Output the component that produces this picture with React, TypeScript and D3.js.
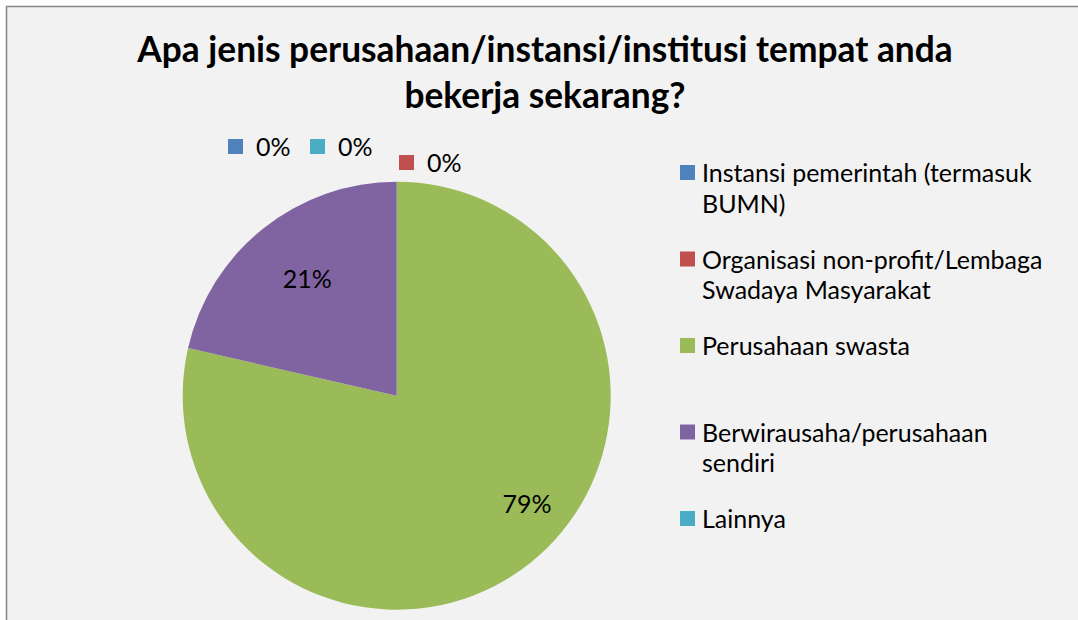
import * as d3 from 'd3';

const categories = [
  'Instansi pemerintah (termasuk BUMN)',
  'Organisasi non-profit/Lembaga Swadaya Masyarakat',
  'Perusahaan swasta',
  'Berwirausaha/perusahaan sendiri',
  'Lainnya',
];
// respondent counts per category
const counts = [0, 0, 11, 3, 0];
const colors = ['#4f81bd', '#c0504d', '#9bbb59', '#8064a2', '#4bacc6'];
// legend text broken into the lines shown in the chart
const legendLines = [
  ['Instansi pemerintah (termasuk', 'BUMN)'],
  ['Organisasi non-profit/Lembaga', 'Swadaya Masyarakat'],
  ['Perusahaan swasta'],
  ['Berwirausaha/perusahaan', 'sendiri'],
  ['Lainnya'],
];
const titleLines = ['Apa jenis perusahaan/instansi/institusi tempat anda', 'bekerja sekarang?'];

// label nudges relative to the pie centre (zero slices) or to the centroid
const labelNudge: [number, number][] = [
  [-139.7, -239.7],
  [31.3, -223.7],
  [37, 0],
  [4, 9],
  [-57.7, -239.7],
];

const W = 1078;
const H = 620;
const FONT = 'Lato, Calibri, sans-serif';
const FS = 25;

export default function App() {
  const cx = 396.7;
  const cy = 395.7;
  const r = 214;

  const pie = d3.pie<number>().sort(null).value(d => d);
  const arcs = pie(counts);
  const arc = d3.arc<d3.PieArcDatum<number>>().innerRadius(0).outerRadius(r);
  const labelArc = d3.arc<d3.PieArcDatum<number>>().innerRadius(r * 0.7).outerRadius(r * 0.7);
  const total = d3.sum(counts);
  const pct = d3.format('.0%');

  const legendY = d3.scaleLinear().domain([0, categories.length - 1]).range([182, 528]);

  return (
    <svg width={W} height={H} style={{ position: 'absolute', left: 0, top: 0, display: 'block' }}>
      <rect x={0} y={0} width={W} height={H} fill="#ffffff" />
      <rect x={6.5} y={6.5} width={W + 10} height={H + 10} fill="#f2f2f2" stroke="#868686" strokeWidth={1.5} />

      <g fontFamily={FONT} fontWeight="bold" fontSize={35.3} fill="#000" textAnchor="middle">
        {titleLines.map((t, i) => (
          <text key={i} x={545} y={62 + i * 46}>{t}</text>
        ))}
      </g>

      <g transform={`translate(${cx},${cy})`}>
        {arcs.map((a, i) => (
          <path key={i} d={arc(a) || ''} fill={colors[i]} />
        ))}
        {arcs.map((a, i) => {
          const label = pct(counts[i] / total);
          const [nx, ny] = labelNudge[i];
          if (a.value === 0) {
            return (
              <g key={'l' + i} transform={`translate(${nx},${ny})`} fontFamily={FONT} fontSize={FS}>
                <rect x={-29} y={-17} width={15} height={15} fill={colors[i]} />
                <text x={-1} y={0} textAnchor="start" fill="#000">{label}</text>
              </g>
            );
          }
          const [lx, ly] = labelArc.centroid(a);
          return (
            <text key={'l' + i} x={lx + nx} y={ly + ny} textAnchor="middle"
              fontFamily={FONT} fontSize={FS} fill="#000">{label}</text>
          );
        })}
      </g>

      <g fontFamily={FONT} fontSize={FS} fill="#000">
        {categories.map((c, i) => (
          <g key={c} transform={`translate(0,${legendY(i)})`}>
            <rect x={680} y={-17} width={15} height={15} fill={colors[i]} />
            {legendLines[i].map((ln, j) => (
              <text key={j} x={702} y={j * 30.5}>{ln}</text>
            ))}
          </g>
        ))}
      </g>
    </svg>
  );
}
